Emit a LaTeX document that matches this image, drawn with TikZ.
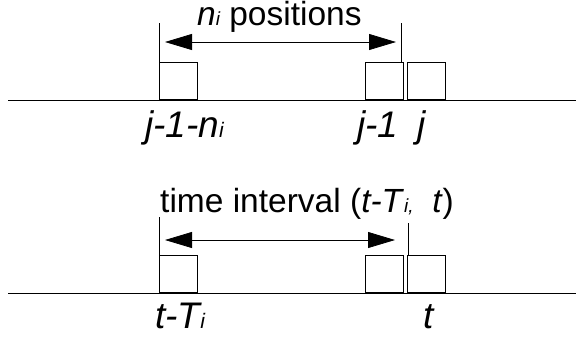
\documentclass[tikz,border=0pt]{standalone}
\usepackage{fontspec}
\setmainfont{Liberation Sans}
\usetikzlibrary{arrows.meta}
\newcommand\smallsub[2]{{\fontsize{#1}{#1}\selectfont\itshape #2}}
\begin{document}
\begin{tikzpicture}[x=1pt,y=-1pt,
  slot/.style={draw,line width=0.8pt,minimum width=38pt,minimum height=37pt,inner sep=0pt,anchor=south west},
  base/.style={line width=0.8pt},
  span/.style={line width=0.8pt,{Triangle[length=27pt,width=16pt]}-{Triangle[length=27pt,width=16pt]}},
  lbl/.style={inner sep=0pt,anchor=base west,font=\fontsize{37}{40}\selectfont\itshape},
  ttl/.style={inner sep=0pt,anchor=base west,font=\fontsize{33.5}{36}\selectfont}]
\useasboundingbox (0,0) rectangle (576,341);
% top row
\coordinate (l1s) at (8,100);
\coordinate (l1e) at (576,100);
\draw[base] (l1s) -- (l1e);
\node[slot] (b1) at (159,100) {};
\node[slot] (b2) at (365,100) {};
\node[slot] (b3) at (407,100) {};
\coordinate (v1) at (159,23);
\coordinate (v2) at (401,23);
\draw[base] (v1) -- (b1.north west);
\draw[base] (v2) -- (v2 |- b2.north);
\coordinate (a1) at (165,42);
\coordinate (a2) at (396,42);
\draw[span] (a1) -- (a2);
\node[ttl] (np) at (197,25) {\textit{n}\smallsub{19}{i} positions};
\node[lbl] (t1) at (145,137) {j-1-n\smallsub{21}{i}};
\node[lbl] (t2) at (357,137) {j-1};
\node[lbl] (t3) at (417,137) {j};
% bottom row
\coordinate (l2s) at (8,293);
\coordinate (l2e) at (576,293);
\draw[base] (l2s) -- (l2e);
\node[slot] (b4) at (159,293) {};
\node[slot] (b5) at (365,293) {};
\node[slot] (b6) at (407,293) {};
\coordinate (v3) at (159,217);
\coordinate (v4) at (408,223);
\draw[base] (v3) -- (b4.north west);
\draw[base] (v4) -- (v4 |- b6.north);
\coordinate (a3) at (165,240);
\coordinate (a4) at (395,240);
\draw[span] (a3) -- (a4);
\node[ttl] (ti) at (160,212) {time interval (\textit{t-T}\smallsub{19}{i,}\ \ \textit{t})};
\node[lbl] (t4) at (155,328) {t-T\smallsub{21}{i}};
\node[lbl] (t5) at (423,328) {t};
\end{tikzpicture}
\end{document}
